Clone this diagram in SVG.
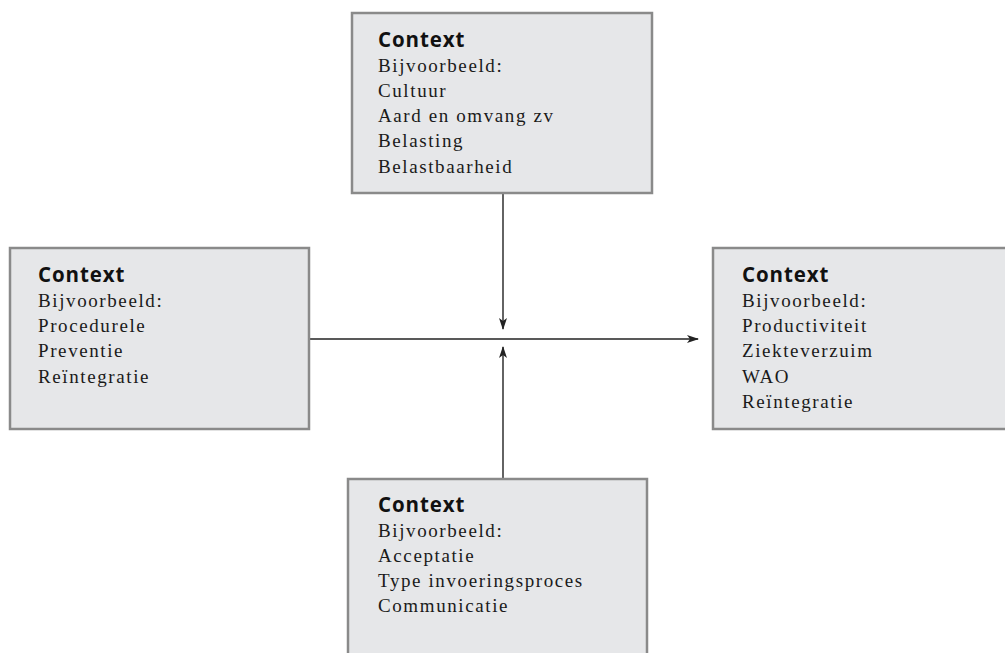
<svg xmlns="http://www.w3.org/2000/svg" width="1005" height="653" viewBox="0 0 1005 653">
<style>
.box{fill:#e6e7e9;stroke:#8a8a8a;stroke-width:2.5}
.t{font-family:"Open Sans","DejaVu Sans",sans-serif;font-weight:700;font-size:20.5px;fill:#111;letter-spacing:0.9px}
.b{font-family:"Liberation Serif","Times New Roman",serif;font-size:19px;fill:#1a1a1a;letter-spacing:1.6px}
.c{stroke:#222;stroke-width:1.4;fill:none}
</style>
<defs>
<marker id="ah" markerWidth="12" markerHeight="8" refX="11" refY="4" orient="auto" markerUnits="userSpaceOnUse">
<path d="M0,0 L12,4 L0,8 L3,4 Z" fill="#222"/>
</marker>
</defs>
<g id="connectors">
<line class="c" x1="503" y1="193" x2="503" y2="329" marker-end="url(#ah)"/>
<line class="c" x1="503" y1="479" x2="503" y2="347" marker-end="url(#ah)"/>
<line class="c" x1="310" y1="339" x2="698" y2="339" marker-end="url(#ah)"/>
</g>
<g id="top">
<rect class="box" x="352" y="13" width="300" height="180"/>
<text class="t" x="378" y="47">Context</text>
<text class="b" x="378" y="72">Bijvoorbeeld:</text>
<text class="b" x="378" y="97">Cultuur</text>
<text class="b" x="378" y="122">Aard en omvang zv</text>
<text class="b" x="378" y="147">Belasting</text>
<text class="b" x="378" y="173">Belastbaarheid</text>
</g>
<g id="left">
<rect class="box" x="10" y="248" width="299" height="181"/>
<text class="t" x="38" y="282">Context</text>
<text class="b" x="38" y="307">Bijvoorbeeld:</text>
<text class="b" x="38" y="332">Procedurele</text>
<text class="b" x="38" y="357">Preventie</text>
<text class="b" x="38" y="383">Reïntegratie</text>
</g>
<g id="right">
<rect class="box" x="713" y="248" width="300" height="181"/>
<text class="t" x="742" y="282">Context</text>
<text class="b" x="742" y="307">Bijvoorbeeld:</text>
<text class="b" x="742" y="332">Productiviteit</text>
<text class="b" x="742" y="357">Ziekteverzuim</text>
<text class="b" x="742" y="383">WAO</text>
<text class="b" x="742" y="408">Reïntegratie</text>
</g>
<g id="bottom">
<rect class="box" x="348" y="479" width="299" height="190"/>
<text class="t" x="378" y="512">Context</text>
<text class="b" x="378" y="537">Bijvoorbeeld:</text>
<text class="b" x="378" y="562">Acceptatie</text>
<text class="b" x="378" y="587">Type invoeringsproces</text>
<text class="b" x="378" y="612">Communicatie</text>
</g>
</svg>
